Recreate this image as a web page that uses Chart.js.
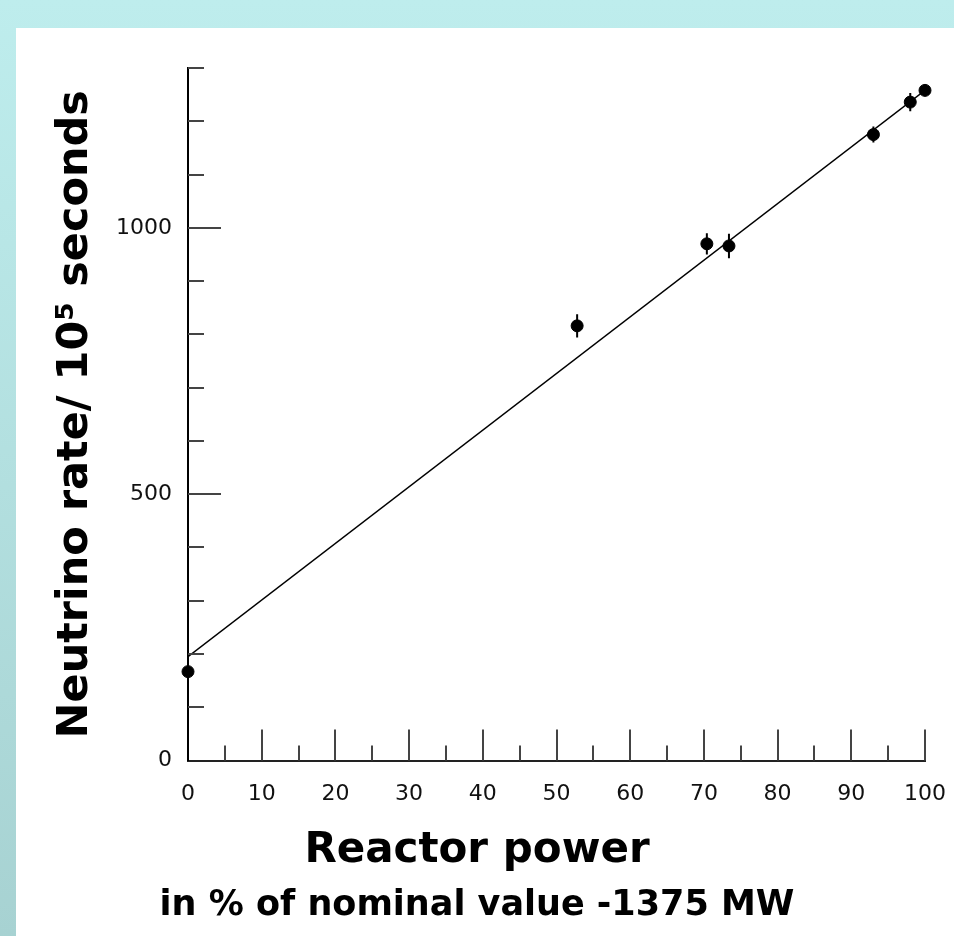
<!DOCTYPE html>
<html>
<head>
<meta charset="utf-8">
<script src="https://cdn.jsdelivr.net/npm/chart.js@4"></script>
<style>
  html, body { margin: 0; padding: 0; }
  body { width: 954px; height: 936px; position: relative; overflow: hidden;
         background: linear-gradient(180deg, #beeded 0%, #a7d2d2 100%); }
  #paper { position: absolute; left: 16px; top: 28px; right: 0; bottom: 0; background: #fff; }
  #wrap { position: absolute; left: 0; top: 0; width: 954px; height: 936px; }
</style>
</head>
<body>
<div id="paper"></div>
<div id="wrap"><canvas id="chart" width="954" height="936"></canvas></div>
<script>
// measured points (reactor power %, neutrino rate per 1e5 s, error)
const power = [0, 52.8, 70.4, 73.4, 93.0, 98.0, 100];
const rate = [167, 816, 970, 966, 1175, 1236, 1258];
const rateErr = [10, 22, 20, 23, 15, 17, 10];

// fitted straight line
const fitPower = [0, 100];
const fitRate = [195, 1258];

const xLabels = [0, 10, 20, 30, 40, 50, 60, 70, 80, 90, 100];
const yLabels = [0, 500, 1000];

const titleFont = 'DejaVu Sans';
const tickFont = 'DejaVu Sans';

// ticks drawn inward from the axes, long ones where there is a label
const inwardTicks = {
  id: 'inwardTicks',
  afterDraw(chart) {
    const { ctx, chartArea, scales: { x, y } } = chart;
    ctx.save();
    ctx.strokeStyle = '#444';
    ctx.lineWidth = 2;
    ctx.beginPath();
    x.ticks.forEach(t => {
      if (t.value === 0) return;
      const px = Math.round(x.getPixelForValue(t.value));
      const len = xLabels.includes(t.value) ? 31 : 15;
      ctx.moveTo(px, chartArea.bottom);
      ctx.lineTo(px, chartArea.bottom - len);
    });
    y.ticks.forEach(t => {
      if (t.value === 0) return;
      const py = Math.round(y.getPixelForValue(t.value));
      const len = yLabels.includes(t.value) ? 33 : 16;
      ctx.moveTo(chartArea.left, py);
      ctx.lineTo(chartArea.left + len, py);
    });
    ctx.stroke();
    ctx.restore();
  }
};

// vertical error bars for the measured points
const errorBars = {
  id: 'errorBars',
  afterDatasetsDraw(chart) {
    const { ctx, scales: { x, y } } = chart;
    ctx.save();
    ctx.strokeStyle = '#000';
    ctx.lineWidth = 2;
    ctx.beginPath();
    power.forEach((p, i) => {
      const px = x.getPixelForValue(p);
      ctx.moveTo(px, y.getPixelForValue(rate[i] - rateErr[i]));
      ctx.lineTo(px, y.getPixelForValue(rate[i] + rateErr[i]));
    });
    ctx.stroke();
    ctx.restore();
  }
};

new Chart(document.getElementById('chart'), {
  type: 'scatter',
  data: {
    datasets: [
      {
        type: 'line',
        data: fitPower.map((p, i) => ({ x: p, y: fitRate[i] })),
        borderColor: '#000',
        borderWidth: 1.5,
        pointRadius: 0,
        fill: false
      },
      {
        data: power.map((p, i) => ({ x: p, y: rate[i] })),
        backgroundColor: '#000',
        borderColor: '#000',
        pointRadius: 6,
        clip: false
      }
    ]
  },
  options: {
    responsive: false,
    animation: false,
    layout: { padding: { top: 68, right: 29, left: 29, bottom: 0 } },
    plugins: {
      legend: { display: false },
      tooltip: { enabled: false },
      title: {
        display: true,
        position: 'bottom',
        weight: 1,
        text: 'Reactor power',
        color: '#000',
        font: { family: titleFont, size: 42, weight: 'bold', lineHeight: 1.2 },
        padding: { top: 15, bottom: 0 }
      },
      subtitle: {
        display: true,
        position: 'bottom',
        weight: 2,
        text: 'in % of nominal value -1375 MW',
        color: '#000',
        font: { family: titleFont, size: 35, weight: 'bold', lineHeight: 1.2 },
        padding: { top: 9, bottom: 9 }
      }
    },
    scales: {
      x: {
        type: 'linear',
        min: 0,
        max: 100,
        afterFit: s => { s.height = 50; s.paddingLeft = 0; s.paddingRight = 0; },
        grid: { display: false, drawTicks: false },
        border: { display: true, color: '#222', width: 2 },
        ticks: {
          stepSize: 5,
          autoSkip: false,
          maxRotation: 0,
          padding: 20,
          color: '#111',
          font: { family: tickFont, size: 22 },
          callback: v => (xLabels.includes(v) ? v : '')
        }
      },
      y: {
        type: 'linear',
        min: 0,
        max: 1300,
        afterFit: s => { s.width = 159; },
        grid: { display: false, drawTicks: false },
        border: { display: true, color: '#000', width: 2 },
        title: {
          display: true,
          text: 'Neutrino rate/ 10⁵ seconds',
          color: '#000',
          font: { family: titleFont, size: 43, weight: 'bold', lineHeight: 1.2 },
          padding: { top: 21, bottom: 0 }
        },
        ticks: {
          stepSize: 100,
          autoSkip: false,
          padding: 16,
          color: '#111',
          font: { family: tickFont, size: 22 },
          callback: v => (yLabels.includes(v) ? v : '')
        }
      }
    }
  },
  plugins: [inwardTicks, errorBars]
});
</script>
</body>
</html>
